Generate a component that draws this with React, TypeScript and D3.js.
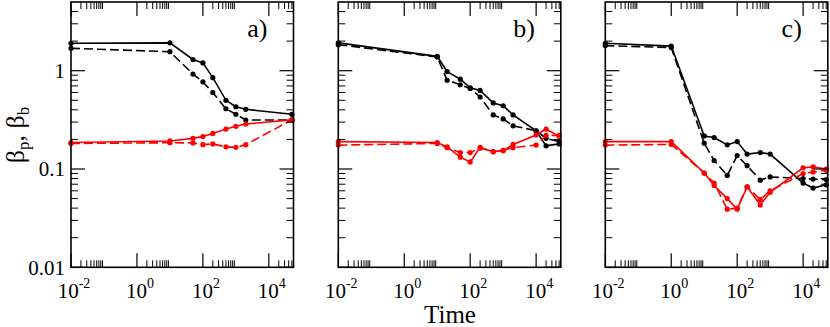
import React from 'react';
import * as d3 from 'd3';

// times (x) for each panel
const timesA = [0.01, 10, 50, 100, 200, 500, 1000, 2000, 5e4];
const timesB = [0.01, 10, 20, 50, 100, 200, 500, 1000, 2000, 1e4, 2e4, 5e4];
const timesC = [0.01, 1, 10, 20, 50, 100, 200, 500, 1000, 1e4, 2e4, 5e4];

// panel a
const aBlackSolid = [1.9, 1.92, 1.3, 1.2, 0.85, 0.5, 0.43, 0.405, 0.36];
const aBlackDashed = [1.69, 1.56, 0.925, 0.77, 0.6, 0.41, 0.36, 0.315, 0.315];
const aRedSolid = [0.186, 0.193, 0.205, 0.214, 0.23, 0.255, 0.272, 0.287, 0.316];
const aRedDashed = [0.182, 0.185, 0.184, 0.177, 0.18, 0.168, 0.166, 0.177, 0.316];

// panel b
const bBlackSolid = [1.92, 1.4, 0.98, 0.82, 0.67, 0.63, 0.47, 0.44, 0.355, 0.245, 0.172, 0.18];
const bBlackDashed = [1.84, 1.38, 0.8, 0.72, 0.66, 0.54, 0.355, 0.323, 0.275, 0.245, 0.205, 0.19];
const bRedSolid = [0.19, 0.186, 0.168, 0.132, 0.118, 0.166, 0.15, 0.153, 0.178, 0.222, 0.255, 0.215];
const bRedDashed = [0.175, 0.182, 0.165, 0.147, 0.147, 0.163, 0.15, 0.155, 0.165, 0.175, 0.22, 0.22];

// panel c
const cBlackSolid = [1.9, 1.78, 0.217, 0.209, 0.176, 0.19, 0.142, 0.147, 0.142, 0.072, 0.064, 0.069];
const cBlackDashed = [1.8, 1.72, 0.183, 0.122, 0.086, 0.137, 0.108, 0.077, 0.083, 0.08, 0.079, 0.078];
const cRedSolid = [0.19, 0.19, 0.091, 0.068, 0.05, 0.039, 0.066, 0.043, 0.058, 0.103, 0.105, 0.1];
const cRedDashed = [0.175, 0.178, 0.091, 0.072, 0.039, 0.04, 0.066, 0.049, 0.06, 0.09, 0.093, 0.097];

const xMajor = [-2, 0, 2, 4];
const yMajor = [0.01, 0.1, 1];
const yLabels = ['0.01', '0.1', '1'];
const panelNames = ['a)', 'b)', 'c)'];

const panels = [
  { t: timesA, series: [aBlackSolid, aBlackDashed, aRedSolid, aRedDashed] },
  { t: timesB, series: [bBlackSolid, bBlackDashed, bRedSolid, bRedDashed] },
  { t: timesC, series: [cBlackSolid, cBlackDashed, cRedSolid, cRedDashed] },
];
const colors = ['black', 'black', 'red', 'red'];
const dashes = [null, '9,4', null, '9,4'];

const lefts = [71, 338.3, 605.3];
const pw = 222.5;
const top = 2;
const bottom = 267.3;
const font = '"Liberation Serif", "Times New Roman", serif';

const Panel = ({ idx }) => {
  const left = lefts[idx];
  const x = d3.scaleLog().domain([1e-2, 5.6e4]).range([left, left + pw]);
  const y = d3.scaleLog().domain([0.01, 5]).range([bottom, top]);
  const { t, series } = panels[idx];

  const xMinor = [];
  xMajor.forEach(e => {
    for (let m = 2; m <= 9; m++) {
      const v = m * Math.pow(10, e);
      if (v < 5.6e4) xMinor.push(v);
    }
  });
  const yMinor = [];
  [-2, -1, 0].forEach(e => {
    for (let m = 2; m <= 9; m++) {
      const v = m * Math.pow(10, e);
      if (v < 5) yMinor.push(v);
    }
  });

  const line = d3.line().x(d => x(d[0])).y(d => y(d[1]));

  return (
    <g>
      {series.map((vals, i) => {
        const pts = t.map((tt, j) => [tt, vals[j]]);
        return (
          <g key={i}>
            <path d={line(pts)} fill="none" stroke={colors[i]} strokeWidth={1.6}
              strokeDasharray={dashes[i] || undefined} />
            {pts.map((p, j) => (
              <circle key={j} cx={x(p[0])} cy={y(p[1])} r={2.6} fill={colors[i]} />
            ))}
          </g>
        );
      })}

      {/* x ticks top and bottom */}
      {xMajor.map(e => {
        const px = x(Math.pow(10, e));
        return (
          <g key={'xm' + e}>
            <line x1={px} x2={px} y1={bottom} y2={bottom - 14} stroke="black" strokeWidth={1.2} />
            <line x1={px} x2={px} y1={top} y2={top + 14} stroke="black" strokeWidth={1.2} />
            <text x={px + 3} y={298} textAnchor="middle" fontFamily={font} fontSize={21}>
              10<tspan fontSize={14} dy={-10}>{e}</tspan>
            </text>
          </g>
        );
      })}
      {xMinor.map((v, i) => {
        const px = x(v);
        return (
          <g key={'xn' + i}>
            <line x1={px} x2={px} y1={bottom} y2={bottom - 7} stroke="black" strokeWidth={1} />
            <line x1={px} x2={px} y1={top} y2={top + 7} stroke="black" strokeWidth={1} />
          </g>
        );
      })}

      {/* y ticks left and right */}
      {yMajor.map((v, i) => {
        const py = y(v);
        return (
          <g key={'ym' + i}>
            <line x1={left} x2={left + 14} y1={py} y2={py} stroke="black" strokeWidth={1.2} />
            <line x1={left + pw} x2={left + pw - 14} y1={py} y2={py} stroke="black" strokeWidth={1.2} />
            {idx === 0 && (
              <text x={left - 6} y={py} dy="0.35em" textAnchor="end" fontFamily={font} fontSize={21}>
                {yLabels[i]}
              </text>
            )}
          </g>
        );
      })}
      {yMinor.map((v, i) => {
        const py = y(v);
        return (
          <g key={'yn' + i}>
            <line x1={left} x2={left + 7} y1={py} y2={py} stroke="black" strokeWidth={1} />
            <line x1={left + pw} x2={left + pw - 7} y1={py} y2={py} stroke="black" strokeWidth={1} />
          </g>
        );
      })}

      <rect x={left} y={top} width={pw} height={bottom - top} fill="none" stroke="black" strokeWidth={1.6} />

      <text x={left + pw - 26} y={36.5} textAnchor="end" fontFamily={font} fontSize={26}>
        {panelNames[idx]}
      </text>
    </g>
  );
};

export default function App() {
  return (
    <svg width={830} height={327} style={{ position: 'absolute', left: 0, top: 0, background: 'white' }}>
      {[0, 1, 2].map(i => <Panel key={i} idx={i} />)}
      <text x={450} y={323} textAnchor="middle" fontFamily={font} fontSize={25}>Time</text>
      <text transform="translate(24,135) rotate(-90)" textAnchor="middle" fontFamily={font} fontSize={26}>
        β<tspan fontSize={17} dy={5}>p</tspan><tspan dy={-5}>, β</tspan><tspan fontSize={17} dy={5}>b</tspan>
      </text>
    </svg>
  );
}
